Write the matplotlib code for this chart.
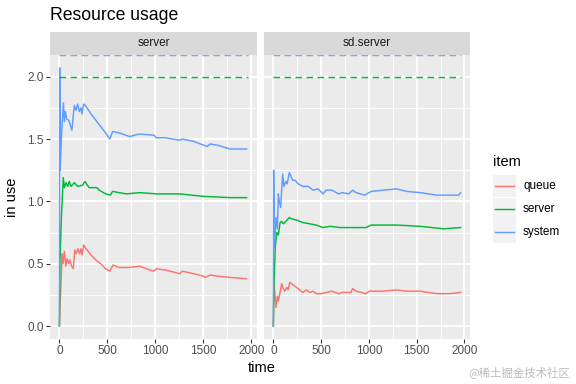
import matplotlib
matplotlib.use("Agg")
import matplotlib.pyplot as plt
from matplotlib.patches import Rectangle

plt.rcParams['font.family'] = ['Liberation Sans', 'DejaVu Sans']

# ---- data ------------------------------------------------------------------
facets = ["server", "sd.server"]
items = ["queue", "server", "system"]
item_colors = ["#F8766D", "#00BA38", "#619CFF"]
server_capacity = 2.0

# facet "server"
queue_t1 = [0, 10, 28, 38, 52, 66, 80, 97, 107, 128, 145, 160, 175, 192, 210, 225, 235, 253,
            277, 330, 380, 430, 480, 525, 558, 620, 725, 835, 980, 1010, 1100, 1255, 1280,
            1400, 1500, 1520, 1570, 1650, 1780, 1950]
queue_v1 = [0, 0.22, 0.58, 0.50, 0.60, 0.48, 0.54, 0.50, 0.53, 0.48, 0.46, 0.61, 0.58, 0.62,
            0.58, 0.62, 0.57, 0.65, 0.62, 0.57, 0.53, 0.50, 0.46, 0.44, 0.49, 0.47, 0.47, 0.48,
            0.44, 0.46, 0.45, 0.42, 0.44, 0.42, 0.40, 0.39, 0.41, 0.40, 0.39, 0.38]
server_t1 = [0, 5, 20, 40, 52, 69, 87, 104, 120, 155, 190, 242, 265, 310, 390, 415, 480, 530,
             555, 620, 700, 835, 1010, 1255, 1500, 1780, 1950]
server_v1 = [0, 0.50, 0.86, 1.19, 1.11, 1.15, 1.12, 1.16, 1.12, 1.15, 1.12, 1.13, 1.16, 1.11,
             1.11, 1.09, 1.06, 1.05, 1.08, 1.07, 1.06, 1.07, 1.06, 1.06, 1.04, 1.03, 1.03]
system_t1 = [0, 3, 8, 20, 28, 42, 52, 62, 76, 97, 110, 130, 155, 173, 190, 207, 225, 235, 252,
             270, 330, 380, 430, 480, 525, 555, 620, 730, 835, 985, 1010, 1100, 1255, 1280,
             1400, 1540, 1570, 1650, 1775, 1950]
system_v1 = [0, 2.07, 1.25, 1.50, 1.61, 1.79, 1.64, 1.72, 1.66, 1.65, 1.62, 1.57, 1.77, 1.73,
             1.78, 1.72, 1.75, 1.70, 1.78, 1.77, 1.70, 1.65, 1.60, 1.55, 1.50, 1.56, 1.55, 1.52,
             1.54, 1.53, 1.51, 1.51, 1.49, 1.50, 1.48, 1.44, 1.46, 1.45, 1.42, 1.42]

# facet "sd.server"
queue_t2 = [0, 5, 28, 42, 52, 70, 87, 105, 120, 140, 155, 170, 190, 225, 260, 310, 345, 380,
            415, 450, 505, 610, 685, 720, 810, 830, 865, 970, 1005, 1150, 1290, 1395, 1535,
            1710, 1850, 1960]
queue_v2 = [0, 0.35, 0.15, 0.24, 0.20, 0.27, 0.34, 0.30, 0.28, 0.31, 0.29, 0.35, 0.34, 0.32,
            0.30, 0.27, 0.29, 0.27, 0.28, 0.26, 0.26, 0.28, 0.26, 0.27, 0.27, 0.30, 0.28, 0.26,
            0.28, 0.28, 0.29, 0.28, 0.28, 0.26, 0.26, 0.27]
server_t2 = [0, 5, 20, 35, 52, 70, 87, 105, 130, 166, 190, 242, 310, 380, 450, 520, 590, 700,
             830, 970, 1025, 1290, 1535, 1780, 1960]
server_v2 = [0, 0.30, 0.63, 0.75, 0.73, 0.83, 0.84, 0.82, 0.84, 0.87, 0.86, 0.85, 0.83, 0.82,
             0.81, 0.79, 0.80, 0.79, 0.79, 0.79, 0.81, 0.81, 0.80, 0.78, 0.79]
system_t2 = [0, 3, 10, 28, 42, 52, 62, 76, 97, 110, 131, 145, 166, 180, 200, 225, 260, 310,
             365, 415, 467, 520, 550, 610, 685, 720, 790, 830, 865, 955, 1025, 1150, 1290,
             1395, 1535, 1710, 1850, 1940, 1960]
system_v2 = [0, 1.25, 0.63, 0.87, 0.78, 1.06, 1.00, 0.95, 1.22, 1.12, 1.16, 1.14, 1.23, 1.21,
             1.17, 1.17, 1.14, 1.12, 1.12, 1.09, 1.10, 1.06, 1.09, 1.09, 1.06, 1.07, 1.06, 1.09,
             1.07, 1.05, 1.08, 1.09, 1.10, 1.08, 1.07, 1.05, 1.05, 1.05, 1.07]

series = [
    [(queue_t1, queue_v1), (server_t1, server_v1), (system_t1, system_v1)],
    [(queue_t2, queue_v2), (server_t2, server_v2), (system_t2, system_v2)],
]

x_ticks = [0, 500, 1000, 1500, 2000]
y_ticks = [0.0, 0.5, 1.0, 1.5, 2.0]

# ---- layout (pixels of a 576x384 canvas) ------------------------------------
W, H = 576, 384
fig = plt.figure(figsize=(W / 96, H / 96), dpi=96)


def px_axes(x0, y0, x1, y1):
    return fig.add_axes([x0 / W, 1 - y1 / H, (x1 - x0) / W, (y1 - y0) / H])


# ggplot-style expanded limits
t_max = max(max(t) for s in series for t, _ in s)
v_max = max(max(v) for s in series for _, v in s)
xlim = (-0.05 * t_max, 1.05 * t_max)
ylim = (-0.05 * v_max, 1.05 * v_max)

panel_x = [(50, 257), (264, 470)]
panel_top, panel_bot, strip_top = 55, 339, 32

for k, name in enumerate(facets):
    x0, x1 = panel_x[k]
    ax = px_axes(x0, panel_top, x1, panel_bot)
    ax.set_facecolor("#EBEBEB")
    for sp in ax.spines.values():
        sp.set_visible(False)
    ax.set_xlim(xlim)
    ax.set_ylim(ylim)
    ax.set_xticks(x_ticks)
    ax.set_xticks([250, 750, 1250, 1750], minor=True)
    ax.set_yticks(y_ticks)
    ax.set_yticks([0.25, 0.75, 1.25, 1.75], minor=True)
    ax.set_yticklabels(["%.1f" % y for y in y_ticks])
    ax.grid(which="major", color="white", lw=1.4)
    ax.grid(which="minor", color="white", lw=0.7)
    ax.set_axisbelow(True)
    ax.tick_params(which="minor", length=0)
    ax.tick_params(which="major", length=2.75, width=0.8, color="#333333",
                   labelcolor="#4D4D4D", labelsize=8.8, pad=2)
    if k > 0:
        ax.tick_params(axis="y", left=False, labelleft=False)

    for (t, v), c in zip(series[k], item_colors):
        ax.plot(t, v, color=c, lw=1.1)

    # limits: server capacity and (infinite) system limit at the panel top
    ax.plot([0, t_max], [server_capacity, server_capacity], color=item_colors[1],
            lw=1.1, ls=(0, (4.5, 3)))
    ax.plot([0, t_max], [ylim[1], ylim[1]], color="#8F9FE8", lw=1.1,
            ls=(0, (4.5, 3)), clip_on=False)

    sax = px_axes(x0, strip_top, x1, panel_top)
    sax.set_facecolor("#D9D9D9")
    sax.set_xticks([])
    sax.set_yticks([])
    for sp in sax.spines.values():
        sp.set_visible(False)
    sax.text(0.5, 0.5, name, transform=sax.transAxes, ha="center", va="center",
             fontsize=8.8, color="#1A1A1A")

# titles
fig.text(50 / W, 1 - 20 / H, "Resource usage", fontsize=13.2, color="black",
         va="baseline", ha="left")
fig.text(262 / W, 1 - 368 / H, "time", fontsize=11, ha="center", va="center")
fig.text(12 / W, 1 - 197 / H, "in use", fontsize=11, ha="center", va="center",
         rotation=90)

# legend
lax = px_axes(485, 145, 576, 250)
lax.set_xlim(485, 576)
lax.set_ylim(250, 145)
lax.axis("off")
lax.text(493, 166, "item", fontsize=11, va="baseline", ha="left")
for i, (lab, c) in enumerate(zip(items, item_colors)):
    y0 = 175 + i * 22.7
    lax.add_patch(Rectangle((493, y0), 22.5, 22.5, fc="#F2F2F2", ec="none"))
    lax.plot([495, 514], [y0 + 11.25, y0 + 11.25], color=c, lw=1.1)
    lax.text(523, y0 + 11.25, lab, fontsize=8.8, va="center", ha="left")

fig.text(570 / W, 1 - 372 / H, "@稀土掘金技术社区", fontsize=8.5, color="#BBBBBB",
         ha="right", va="center", family=["Noto Sans CJK SC", "DejaVu Sans"])

fig.savefig("out.png", dpi=96)
